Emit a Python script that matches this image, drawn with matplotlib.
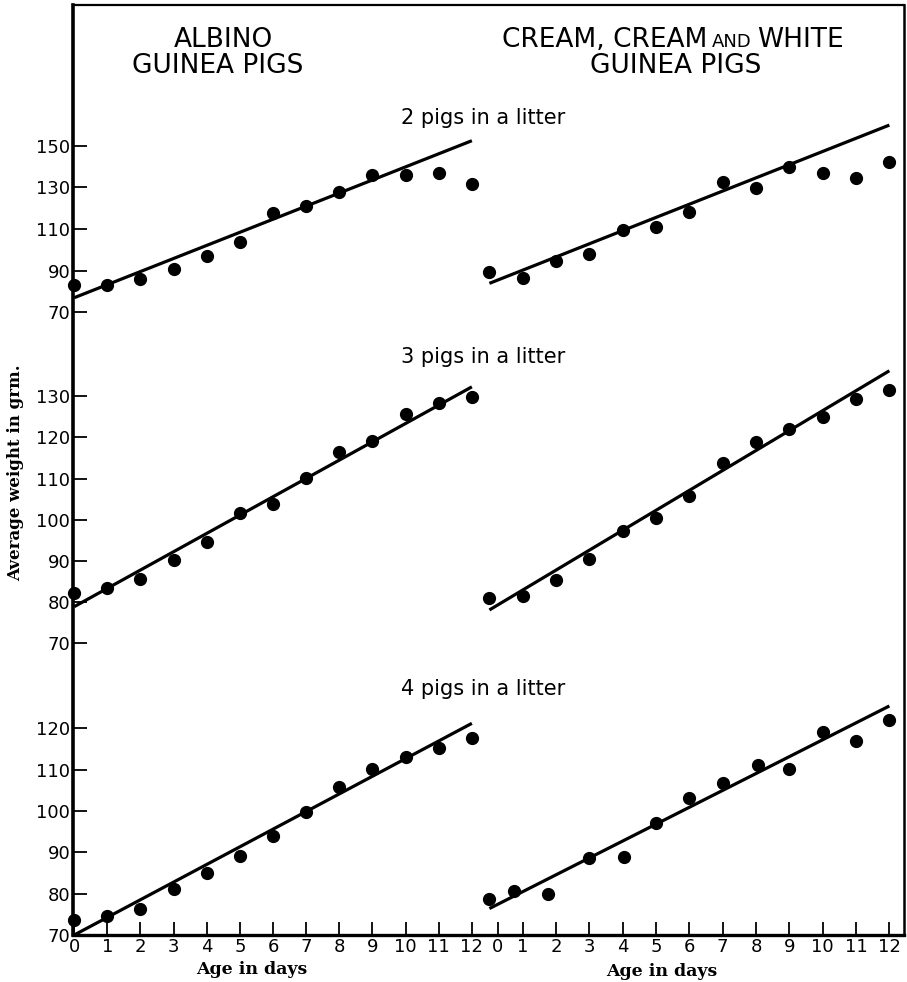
import matplotlib
matplotlib.use("Agg")
import matplotlib.pyplot as plt

W, H = 907, 982

# ages in days
days = list(range(13))
# the lowest right-hand series sits a little off the whole days in the original
days_cream_4 = [0, 0.75, 1.75, 3, 4.05, 5, 6, 7, 8.05, 9, 10, 11, 12]

# average weights (grm.)
albino_2 = [83.3, 83.3, 86.2, 90.6, 97.1, 103.9, 117.9, 121.1, 127.8, 135.7, 136.0, 136.7, 131.7]
cream_2 = [89.5, 86.3, 94.8, 98.0, 109.5, 111.1, 118.3, 132.7, 129.8, 139.9, 137.0, 134.3, 142.3]
albino_3 = [82.1, 83.5, 85.5, 90.2, 94.5, 101.6, 103.8, 110.1, 116.5, 119.1, 125.7, 128.3, 129.9]
cream_3 = [80.9, 81.5, 85.4, 90.4, 97.4, 100.4, 105.9, 113.9, 119.0, 122.0, 125.0, 129.3, 131.5]
albino_4 = [73.6, 74.6, 76.2, 81.1, 84.9, 89.1, 94.0, 99.8, 105.7, 110.1, 113.1, 115.2, 117.6]
cream_4 = [78.6, 80.7, 79.9, 88.6, 88.9, 97.2, 103.1, 106.7, 111.1, 110.1, 119.2, 117.0, 122.0]

# straight lines drawn through each series: value at day 0 and at day 12
line_ends = [0, 12]
albino_2_line = [77.0, 152.4]
cream_2_line = [83.9, 159.9]
albino_3_line = [78.9, 132.3]
cream_3_line = [78.1, 136.2]
albino_4_line = [70.0, 121.2]
cream_4_line = [76.4, 125.4]

yticks_2 = [70, 90, 110, 130, 150]
yticks_3 = [70, 80, 90, 100, 110, 120, 130]
yticks_4 = [70, 80, 90, 100, 110, 120]
xtick_labels = [str(d) for d in days]
litters = ["2 pigs in a litter", "3 pigs in a litter", "4 pigs in a litter"]

# layout in pixels: columns (x of day 0, px per day, left, right)
cols = [(74.2, 33.14, 73, 480), (489.4, 33.33, 480, 904)]
# rows: two reference ticks (value, y px), top px, bottom px
rows = [((70, 312.3), (150, 145.7), 20, 333),
        ((70, 643.3), (130, 396.3), 334, 664),
        ((70, 935.0), (120, 728.3), 654, 935)]

series = [[(days, albino_2, albino_2_line), (days, cream_2, cream_2_line)],
          [(days, albino_3, albino_3_line), (days, cream_3, cream_3_line)],
          [(days, albino_4, albino_4_line), (days_cream_4, cream_4, cream_4_line)]]
row_ticks = [yticks_2, yticks_3, yticks_4]

fig = plt.figure(figsize=(W / 100, H / 100), dpi=100)

# outer frame
frame = fig.add_axes([73 / W, 1 - 935 / H, (904 - 73) / W, (935 - 5) / H])
frame.set_xticks([])
frame.set_yticks([])
for side, lw in [("left", 2.6), ("bottom", 2.4), ("top", 1.6), ("right", 1.8)]:
    frame.spines[side].set_linewidth(lw)

for r, ((v1, p1), (v2, p2), ytop, ybot) in enumerate(rows):
    s = (p1 - p2) / (v2 - v1)
    ylo = v1 - (ybot - p1) / s
    yhi = v1 + (p1 - ytop) / s
    for c, (x0, dx, xl, xr) in enumerate(cols):
        ax = fig.add_axes([xl / W, 1 - ybot / H, (xr - xl) / W, (ybot - ytop) / H])
        ax.patch.set_alpha(0)
        for sp in ax.spines.values():
            sp.set_visible(False)
        ax.set_xlim((xl - x0) / dx, (xr - x0) / dx)
        ax.set_ylim(ylo, yhi)

        xs, ys, line = series[r][c]
        ax.plot(line_ends, line, color="black", lw=2.3, clip_on=False, solid_capstyle="butt")
        ax.plot(xs, ys, "o", color="black", ms=8.5, clip_on=False)

        if c == 0:
            ax.set_yticks(row_ticks[r])
            ax.tick_params(axis="y", direction="in", length=10, width=1.3,
                           labelsize=13, pad=2)
        else:
            ax.tick_params(axis="y", left=False, labelleft=False)

        if r == 2:
            ticks = list(days)
            if c == 1:
                ticks[0] = 0.25  # the "0" tick is squeezed right in the original
            ax.set_xticks(ticks)
            ax.set_xticklabels(xtick_labels)
            ax.tick_params(axis="x", direction="in", length=9.5, width=1.3,
                           labelsize=13, pad=2)
        else:
            ax.tick_params(axis="x", bottom=False, labelbottom=False)


def ftext(x, y, s, **kw):
    fig.text(x / W, 1 - y / H, s, **kw)


ftext(223, 46.7, "ALBINO", ha="center", va="baseline", fontsize=19)
ftext(218, 72.7, "GUINEA PIGS", ha="center", va="baseline", fontsize=19)
ftext(707, 46.7, "CREAM, CREAM", ha="right", va="baseline", fontsize=19)
ftext(732, 46.7, "AND", ha="center", va="baseline", fontsize=13)
ftext(757, 46.7, "WHITE", ha="left", va="baseline", fontsize=19)
ftext(676, 73.3, "GUINEA PIGS", ha="center", va="baseline", fontsize=19)

for label, yb in zip(litters, [124.3, 363.3, 695.0]):
    ftext(483, yb, label, ha="center", va="baseline", fontsize=15)

ftext(252, 970, "Age in days", ha="center", va="center", family="DejaVu Serif",
      fontsize=12.5, fontweight="bold")
ftext(662, 972, "Age in days", ha="center", va="center", family="DejaVu Serif",
      fontsize=12.5, fontweight="bold")
ftext(16, 473, "Average weight in grm.", ha="center", va="center", rotation=90,
      family="DejaVu Serif", fontsize=12, fontweight="bold")

fig.savefig("out.png", dpi=100)
